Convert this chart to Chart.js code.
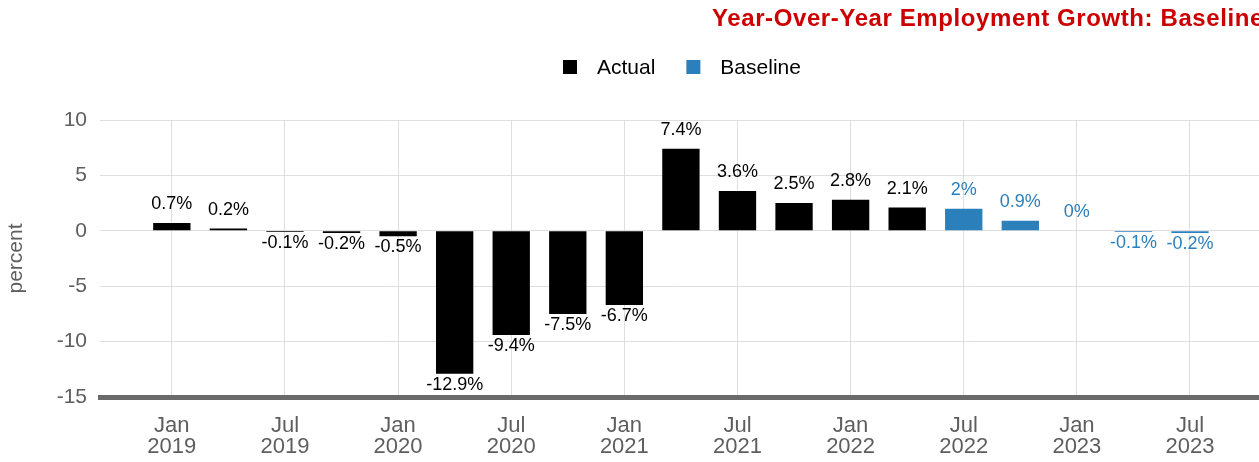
<!DOCTYPE html>
<html>
<head>
<meta charset="utf-8">
<script src="https://cdn.jsdelivr.net/npm/chart.js@4.4.1/dist/chart.umd.min.js"></script>
<style>
  html, body { margin: 0; padding: 0; background: #ffffff; }
  #wrap { width: 1259px; height: 462px; }
</style>
</head>
<body>
<div id="wrap"><canvas id="chart" width="1259" height="462"></canvas></div>
<script>
// Quarterly year-over-year employment growth, percent
const quarters = ['2019 Q1','2019 Q2','2019 Q3','2019 Q4','2020 Q1','2020 Q2','2020 Q3','2020 Q4',
  '2021 Q1','2021 Q2','2021 Q3','2021 Q4','2022 Q1','2022 Q2','2022 Q3','2022 Q4',
  '2023 Q1','2023 Q2','2023 Q3'];
const actualValues = [0.7, 0.2, -0.1, -0.2, -0.5, -12.9, -9.4, -7.5, -6.7, 7.4, 3.6, 2.5, 2.8, 2.1,
  null, null, null, null, null];
const baselineValues = [null, null, null, null, null, null, null, null, null, null, null, null, null, null,
  2, 0.9, 0, -0.1, -0.2];

// Axis tick positions (quarter index) and their two-line labels
const tickIndex = [0, 2, 4, 6, 8, 10, 12, 14, 16, 18];
const tickLabels = [['Jan','2019'],['Jul','2019'],['Jan','2020'],['Jul','2020'],['Jan','2021'],
  ['Jul','2021'],['Jan','2022'],['Jul','2022'],['Jan','2023'],['Jul','2023']];
const yTicks = [-15, -10, -5, 0, 5, 10];

const titleText = 'Year-Over-Year Employment Growth: Baseline';
const FONT = "'Liberation Sans', Arial, sans-serif";
const GRAY = '#5e5e5e';
const BLUE = '#2b7fba';

const toPoints = vals => vals.map((v, i) => ({ x: i, y: v }));

// Value labels above positive bars and below negative ones
const valueLabels = {
  id: 'valueLabels',
  afterDatasetsDraw(chart) {
    const ctx = chart.ctx;
    ctx.save();
    ctx.font = '18px ' + FONT;
    ctx.textAlign = 'center';
    ctx.textBaseline = 'middle';
    chart.data.datasets.forEach((ds, di) => {
      const meta = chart.getDatasetMeta(di);
      meta.data.forEach((el, i) => {
        const v = ds.data[i].y;
        if (v === null || v === undefined) return;
        ctx.fillStyle = ds.labelColor;
        const y = v >= 0 ? el.y - 19 : el.y + 11;
        ctx.fillText(v + '%', el.x, y);
      });
    });
    ctx.restore();
  }
};

// Heading and legend row across the top
const header = {
  id: 'header',
  afterDraw(chart) {
    const ctx = chart.ctx;
    ctx.save();
    ctx.font = 'bold 24px ' + FONT;
    ctx.letterSpacing = '0.6px';
    ctx.fillStyle = '#cc0000';
    ctx.textAlign = 'right';
    ctx.textBaseline = 'middle';
    ctx.fillText(titleText, 1264, 19);
    ctx.letterSpacing = '0px';

    ctx.font = '21px ' + FONT;
    ctx.textAlign = 'left';
    const box = 14, gapBox = 20, gapItem = 31;
    const items = chart.data.datasets.map(ds => ({ text: ds.label, color: ds.backgroundColor }));
    let x = 563;
    const y = 67;
    items.forEach(it => {
      ctx.fillStyle = it.color;
      ctx.fillRect(x, y - box / 2, box, box);
      x += box + gapBox;
      ctx.fillStyle = '#000000';
      ctx.fillText(it.text, x, y + 1);
      x += ctx.measureText(it.text).width + gapItem;
    });
    ctx.restore();
  }
};

new Chart(document.getElementById('chart'), {
  type: 'bar',
  data: {
    datasets: [
      { label: 'Actual', data: toPoints(actualValues), backgroundColor: '#000000', labelColor: '#000000' },
      { label: 'Baseline', data: toPoints(baselineValues), backgroundColor: BLUE, labelColor: BLUE }
    ]
  },
  options: {
    responsive: false,
    animation: false,
    grouped: false,
    categoryPercentage: 1,
    barPercentage: 0.66,
    layout: { padding: { top: 120, right: 0, bottom: 0, left: 0 } },
    plugins: {
      legend: { display: false },
      title: { display: false },
      tooltip: { enabled: false }
    },
    scales: {
      x: {
        type: 'linear',
        min: -1.27,
        max: 19.22,
        offset: false,
        afterBuildTicks(scale) { scale.ticks = tickIndex.map(v => ({ value: v })); },
        afterFit(scale) { scale.height = 65; },
        ticks: {
          autoSkip: false,
          maxRotation: 0,
          padding: 18,
          color: GRAY,
          font: { family: FONT, size: 22, lineHeight: 0.96 },
          callback: v => tickLabels[tickIndex.indexOf(v)]
        },
        grid: { color: '#dedede', lineWidth: 1, drawTicks: false, offset: false },
        border: { display: true, color: '#6a6a6a', width: 5 }
      },
      y: {
        min: -15,
        max: 10,
        afterBuildTicks(scale) { scale.ticks = yTicks.map(v => ({ value: v })); },
        afterFit(scale) { scale.width = 100; },
        ticks: {
          padding: 13,
          color: GRAY,
          font: { family: FONT, size: 21 }
        },
        grid: { color: '#dedede', lineWidth: 1, drawTicks: false },
        border: { display: false },
        title: {
          display: true,
          text: 'percent',
          color: GRAY,
          font: { family: FONT, size: 21 },
          padding: { top: 4, bottom: 0 }
        }
      }
    }
  },
  plugins: [valueLabels, header]
});
</script>
</body>
</html>
